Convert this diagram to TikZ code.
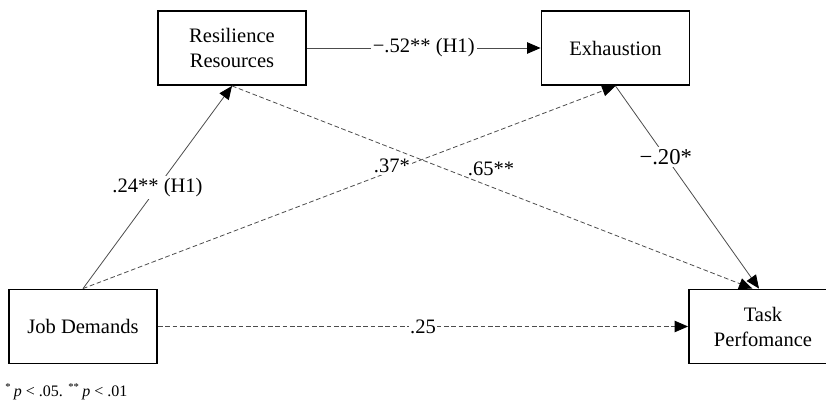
\documentclass[tikz,border=0pt]{standalone}
\usepackage{fontspec}
\setmainfont{Liberation Serif}
\usetikzlibrary{arrows.meta,positioning}

\begin{document}
\begin{tikzpicture}[x=0.75pt,y=-0.75pt,
    varbox/.style={draw,line width=1.4pt,minimum width=111pt,minimum height=55.5pt,
        align=center,font=\fontsize{15.4}{18.75}\selectfont},
    effect/.style={draw=black!70,line width=0.6pt,
        -{Triangle[length=10pt,width=8.5pt,color=black]}},
    indirect/.style={effect,dash pattern=on 3.5pt off 2pt},
    coef/.style={fill=white,inner sep=1.5pt,font=\fontsize{15.4}{17}\selectfont}]
\useasboundingbox (0,0) rectangle (826,403);
    \node[varbox] (res) at (232,48) {Resilience\\Resources};
    \node[varbox] (exh) at (615.5,48) {Exhaustion};
    \node[varbox] (job) at (83,326.5) {Job Demands};
    \node[varbox] (task) at (763,326.5) {Task\\Perfomance};
    \node[anchor=west,inner sep=0pt,font=\fontsize{12}{14}\selectfont] (note) at (5,392)
        {\textsuperscript{*}\,\textit{p} < .05. \textsuperscript{**}\,\textit{p} < .01};
   \draw[effect] (job.north) -- (res.south)
        node[coef,pos=0.5] {.24** (H1)};
   \draw[effect] (res.east) -- (exh.west)
        node[coef,pos=0.5] {−.52** (H1)};
   \draw[effect] (exh.south) -- ([xshift=-3pt]task.north)
        node[coef,pos=0.35,font=\fontsize{17}{19}\selectfont] {−.20*};
   \draw[indirect] (job.north) -- (exh.south)
        node[coef,pos=0.58,yshift=4pt] {.37*};
   \draw[indirect] (res.south) -- ([xshift=-8pt]task.north)
        node[pos=0.45,anchor=south west,inner sep=1pt,font=\fontsize{15.4}{17}\selectfont] {.65**};
   \draw[indirect] (job.east) -- (task.west)
        node[coef,inner sep=1pt,pos=0.5] {.25};
\end{tikzpicture}
\end{document}
